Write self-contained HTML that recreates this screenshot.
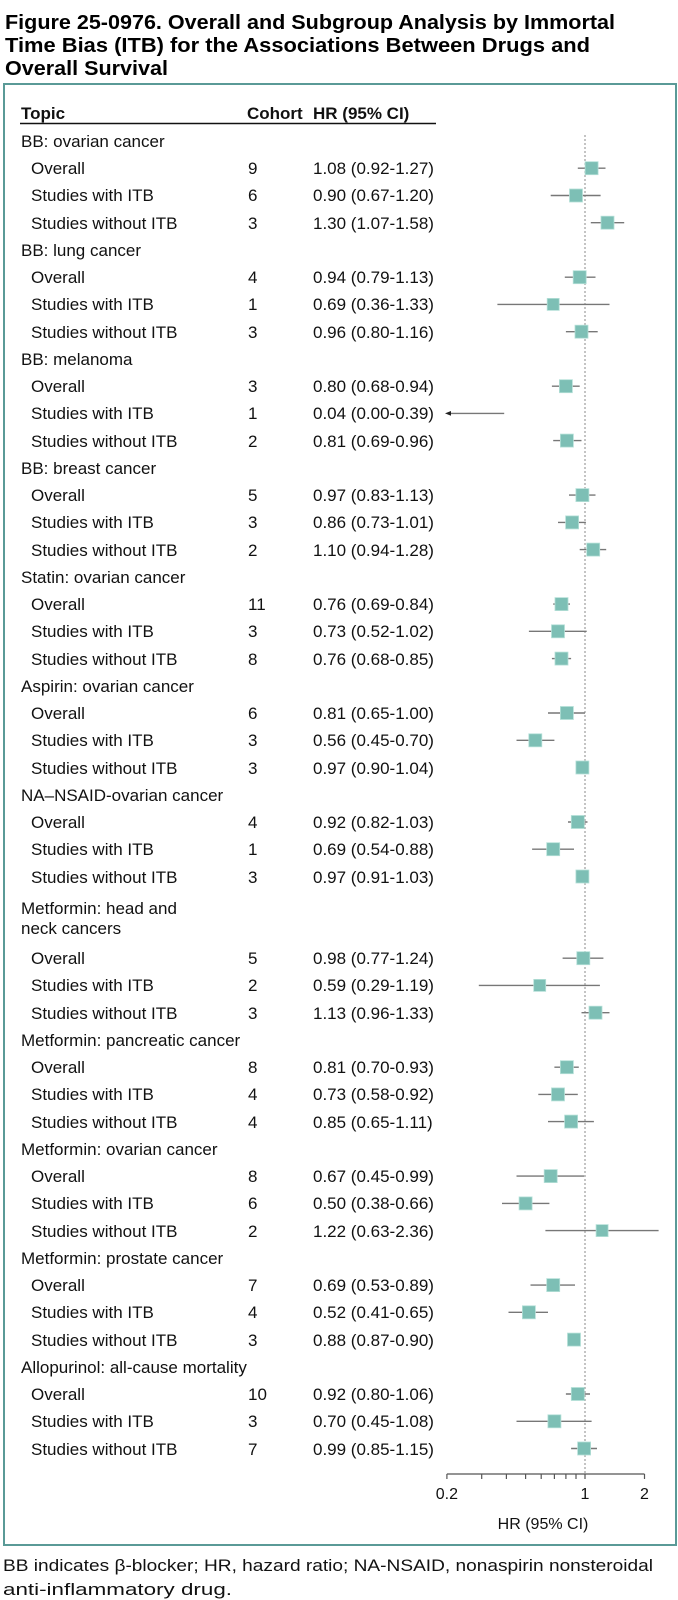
<!DOCTYPE html>
<html><head><meta charset="utf-8"><style>
html,body{margin:0;padding:0;background:#fff;}
svg{display:block;font-family:"Liberation Sans",sans-serif;}
.t{font-size:17px;fill:#111;}
.b{font-weight:bold;}
.ci{stroke:#777;stroke-width:1.4;}
.sq{fill:#7dbfb5;stroke:#b5e0d8;stroke-width:0.8;}
</style></head><body>
<svg width="678" height="1600" viewBox="0 0 678 1600" xmlns="http://www.w3.org/2000/svg">
<text x="5" y="29" class="b" font-size="20" textLength="610" lengthAdjust="spacingAndGlyphs">Figure 25-0976. Overall and Subgroup Analysis by Immortal</text>
<text x="5" y="52" class="b" font-size="20" textLength="585" lengthAdjust="spacingAndGlyphs">Time Bias (ITB) for the Associations Between Drugs and</text>
<text x="5" y="75" class="b" font-size="20" textLength="163" lengthAdjust="spacingAndGlyphs">Overall Survival</text>
<rect x="4" y="84" width="672" height="1461" fill="none" stroke="#5a9a97" stroke-width="2"/>
<text x="21" y="119" class="t b">Topic</text>
<text x="247" y="119" class="t b">Cohort</text>
<text x="313" y="119" class="t b">HR (95% CI)</text>
<line x1="20" y1="123.5" x2="436" y2="123.5" stroke="#111" stroke-width="1.5"/>
<line x1="585" y1="135" x2="585" y2="1474" stroke="#888" stroke-width="1" stroke-dasharray="2,2"/>
<g class="t">
<text x="21" y="147">BB: ovarian cancer</text>
<text x="31" y="174">Overall</text><text x="248" y="174">9</text><text x="313" y="174">1.08 (0.92-1.27)</text>
<text x="31" y="201">Studies with ITB</text><text x="248" y="201">6</text><text x="313" y="201">0.90 (0.67-1.20)</text>
<text x="31" y="229">Studies without ITB</text><text x="248" y="229">3</text><text x="313" y="229">1.30 (1.07-1.58)</text>
<text x="21" y="256">BB: lung cancer</text>
<text x="31" y="283">Overall</text><text x="248" y="283">4</text><text x="313" y="283">0.94 (0.79-1.13)</text>
<text x="31" y="310">Studies with ITB</text><text x="248" y="310">1</text><text x="313" y="310">0.69 (0.36-1.33)</text>
<text x="31" y="338">Studies without ITB</text><text x="248" y="338">3</text><text x="313" y="338">0.96 (0.80-1.16)</text>
<text x="21" y="365">BB: melanoma</text>
<text x="31" y="392">Overall</text><text x="248" y="392">3</text><text x="313" y="392">0.80 (0.68-0.94)</text>
<text x="31" y="419">Studies with ITB</text><text x="248" y="419">1</text><text x="313" y="419">0.04 (0.00-0.39)</text>
<text x="31" y="447">Studies without ITB</text><text x="248" y="447">2</text><text x="313" y="447">0.81 (0.69-0.96)</text>
<text x="21" y="474">BB: breast cancer</text>
<text x="31" y="501">Overall</text><text x="248" y="501">5</text><text x="313" y="501">0.97 (0.83-1.13)</text>
<text x="31" y="528">Studies with ITB</text><text x="248" y="528">3</text><text x="313" y="528">0.86 (0.73-1.01)</text>
<text x="31" y="556">Studies without ITB</text><text x="248" y="556">2</text><text x="313" y="556">1.10 (0.94-1.28)</text>
<text x="21" y="583">Statin: ovarian cancer</text>
<text x="31" y="610">Overall</text><text x="248" y="610">11</text><text x="313" y="610">0.76 (0.69-0.84)</text>
<text x="31" y="637">Studies with ITB</text><text x="248" y="637">3</text><text x="313" y="637">0.73 (0.52-1.02)</text>
<text x="31" y="665">Studies without ITB</text><text x="248" y="665">8</text><text x="313" y="665">0.76 (0.68-0.85)</text>
<text x="21" y="692">Aspirin: ovarian cancer</text>
<text x="31" y="719">Overall</text><text x="248" y="719">6</text><text x="313" y="719">0.81 (0.65-1.00)</text>
<text x="31" y="746">Studies with ITB</text><text x="248" y="746">3</text><text x="313" y="746">0.56 (0.45-0.70)</text>
<text x="31" y="774">Studies without ITB</text><text x="248" y="774">3</text><text x="313" y="774">0.97 (0.90-1.04)</text>
<text x="21" y="801">NA–NSAID-ovarian cancer</text>
<text x="31" y="828">Overall</text><text x="248" y="828">4</text><text x="313" y="828">0.92 (0.82-1.03)</text>
<text x="31" y="855">Studies with ITB</text><text x="248" y="855">1</text><text x="313" y="855">0.69 (0.54-0.88)</text>
<text x="31" y="883">Studies without ITB</text><text x="248" y="883">3</text><text x="313" y="883">0.97 (0.91-1.03)</text>
<text x="21" y="914">Metformin: head and</text>
<text x="21" y="934">neck cancers</text>
<text x="31" y="964">Overall</text><text x="248" y="964">5</text><text x="313" y="964">0.98 (0.77-1.24)</text>
<text x="31" y="991">Studies with ITB</text><text x="248" y="991">2</text><text x="313" y="991">0.59 (0.29-1.19)</text>
<text x="31" y="1019">Studies without ITB</text><text x="248" y="1019">3</text><text x="313" y="1019">1.13 (0.96-1.33)</text>
<text x="21" y="1046">Metformin: pancreatic cancer</text>
<text x="31" y="1073">Overall</text><text x="248" y="1073">8</text><text x="313" y="1073">0.81 (0.70-0.93)</text>
<text x="31" y="1100">Studies with ITB</text><text x="248" y="1100">4</text><text x="313" y="1100">0.73 (0.58-0.92)</text>
<text x="31" y="1128">Studies without ITB</text><text x="248" y="1128">4</text><text x="313" y="1128">0.85 (0.65-1.11)</text>
<text x="21" y="1155">Metformin: ovarian cancer</text>
<text x="31" y="1182">Overall</text><text x="248" y="1182">8</text><text x="313" y="1182">0.67 (0.45-0.99)</text>
<text x="31" y="1209">Studies with ITB</text><text x="248" y="1209">6</text><text x="313" y="1209">0.50 (0.38-0.66)</text>
<text x="31" y="1237">Studies without ITB</text><text x="248" y="1237">2</text><text x="313" y="1237">1.22 (0.63-2.36)</text>
<text x="21" y="1264">Metformin: prostate cancer</text>
<text x="31" y="1291">Overall</text><text x="248" y="1291">7</text><text x="313" y="1291">0.69 (0.53-0.89)</text>
<text x="31" y="1318">Studies with ITB</text><text x="248" y="1318">4</text><text x="313" y="1318">0.52 (0.41-0.65)</text>
<text x="31" y="1346">Studies without ITB</text><text x="248" y="1346">3</text><text x="313" y="1346">0.88 (0.87-0.90)</text>
<text x="21" y="1373">Allopurinol: all-cause mortality</text>
<text x="31" y="1400">Overall</text><text x="248" y="1400">10</text><text x="313" y="1400">0.92 (0.80-1.06)</text>
<text x="31" y="1427">Studies with ITB</text><text x="248" y="1427">3</text><text x="313" y="1427">0.70 (0.45-1.08)</text>
<text x="31" y="1455">Studies without ITB</text><text x="248" y="1455">7</text><text x="313" y="1455">0.99 (0.85-1.15)</text>
</g>
<g>
<line class="ci" x1="577.8" y1="168.2" x2="605.5" y2="168.2"/><rect class="sq" x="585.1" y="161.7" width="13" height="13"/>
<line class="ci" x1="550.7" y1="195.5" x2="600.6" y2="195.5"/><rect class="sq" x="569.5" y="189" width="13" height="13"/>
<line class="ci" x1="590.8" y1="222.7" x2="624.2" y2="222.7"/><rect class="sq" x="601" y="216.2" width="13" height="13"/>
<line class="ci" x1="564.8" y1="277.2" x2="595.5" y2="277.2"/><rect class="sq" x="573.2" y="270.7" width="13" height="13"/>
<line class="ci" x1="497.4" y1="304.4" x2="609.5" y2="304.4"/><rect class="sq" x="547.2" y="298.4" width="12" height="12"/>
<line class="ci" x1="565.9" y1="331.7" x2="597.7" y2="331.7"/><rect class="sq" x="575" y="325.2" width="13" height="13"/>
<line class="ci" x1="551.9" y1="386.2" x2="579.7" y2="386.2"/><rect class="sq" x="559.4" y="379.7" width="13" height="13"/>
<line class="ci" x1="449" y1="413.4" x2="504.2" y2="413.4"/><polygon points="445,413.4 451,411 451,415.8" fill="#222"/>
<line class="ci" x1="553.2" y1="440.6" x2="581.5" y2="440.6"/><rect class="sq" x="560.4" y="434.1" width="13" height="13"/>
<line class="ci" x1="569" y1="495.1" x2="595.5" y2="495.1"/><rect class="sq" x="575.9" y="488.6" width="13" height="13"/>
<line class="ci" x1="558" y1="522.4" x2="585.9" y2="522.4"/><rect class="sq" x="565.6" y="515.9" width="13" height="13"/>
<line class="ci" x1="579.7" y1="549.6" x2="606.2" y2="549.6"/><rect class="sq" x="586.7" y="543.1" width="13" height="13"/>
<line class="ci" x1="553.2" y1="604.1" x2="570" y2="604.1"/><rect class="sq" x="555" y="597.6" width="13" height="13"/>
<line class="ci" x1="528.9" y1="631.3" x2="586.7" y2="631.3"/><rect class="sq" x="551.5" y="624.8" width="13" height="13"/>
<line class="ci" x1="551.9" y1="658.6" x2="571.1" y2="658.6"/><rect class="sq" x="555" y="652.1" width="13" height="13"/>
<line class="ci" x1="548" y1="713" x2="585" y2="713"/><rect class="sq" x="560.4" y="706.5" width="13" height="13"/>
<line class="ci" x1="516.5" y1="740.3" x2="554.4" y2="740.3"/><rect class="sq" x="528.8" y="733.8" width="13" height="13"/>
<line class="ci" x1="576" y1="767.5" x2="588.4" y2="767.5"/><rect class="sq" x="575.9" y="761" width="13" height="13"/>
<line class="ci" x1="568" y1="822" x2="587.5" y2="822"/><rect class="sq" x="571.3" y="815.5" width="13" height="13"/>
<line class="ci" x1="532.1" y1="849.2" x2="574" y2="849.2"/><rect class="sq" x="546.7" y="842.7" width="13" height="13"/>
<line class="ci" x1="576.9" y1="876.5" x2="587.5" y2="876.5"/><rect class="sq" x="575.9" y="870" width="13" height="13"/>
<line class="ci" x1="562.6" y1="958.2" x2="603.4" y2="958.2"/><rect class="sq" x="576.8" y="951.7" width="13" height="13"/>
<line class="ci" x1="478.8" y1="985.4" x2="599.9" y2="985.4"/><rect class="sq" x="533.7" y="979.4" width="12" height="12"/>
<line class="ci" x1="581.5" y1="1012.7" x2="609.5" y2="1012.7"/><rect class="sq" x="589" y="1006.2" width="13" height="13"/>
<line class="ci" x1="554.4" y1="1067.2" x2="578.8" y2="1067.2"/><rect class="sq" x="560.4" y="1060.7" width="13" height="13"/>
<line class="ci" x1="538.3" y1="1094.4" x2="577.8" y2="1094.4"/><rect class="sq" x="551.5" y="1087.9" width="13" height="13"/>
<line class="ci" x1="548" y1="1121.6" x2="593.9" y2="1121.6"/><rect class="sq" x="564.6" y="1115.1" width="13" height="13"/>
<line class="ci" x1="516.5" y1="1176.1" x2="584.1" y2="1176.1"/><rect class="sq" x="544.2" y="1169.6" width="13" height="13"/>
<line class="ci" x1="502" y1="1203.4" x2="549.4" y2="1203.4"/><rect class="sq" x="519.1" y="1196.9" width="13" height="13"/>
<line class="ci" x1="545.4" y1="1230.6" x2="658.6" y2="1230.6"/><rect class="sq" x="596.1" y="1224.6" width="12" height="12"/>
<line class="ci" x1="530.5" y1="1285.1" x2="575" y2="1285.1"/><rect class="sq" x="546.7" y="1278.6" width="13" height="13"/>
<line class="ci" x1="508.5" y1="1312.3" x2="548" y2="1312.3"/><rect class="sq" x="522.4" y="1305.8" width="13" height="13"/>
<line class="ci" x1="573.1" y1="1339.6" x2="576" y2="1339.6"/><rect class="sq" x="567.5" y="1333.1" width="13" height="13"/>
<line class="ci" x1="565.9" y1="1394" x2="590" y2="1394"/><rect class="sq" x="571.3" y="1387.5" width="13" height="13"/>
<line class="ci" x1="516.5" y1="1421.3" x2="591.6" y2="1421.3"/><rect class="sq" x="547.9" y="1414.8" width="13" height="13"/>
<line class="ci" x1="571.1" y1="1448.5" x2="597" y2="1448.5"/><rect class="sq" x="577.6" y="1442" width="13" height="13"/>
</g>
<g stroke="#555" stroke-width="1.2">
<line x1="446.9" y1="1474" x2="644.5" y2="1474"/>
<line x1="446.9" y1="1474" x2="446.9" y2="1479"/>
<line x1="481.7" y1="1474" x2="481.7" y2="1479"/>
<line x1="506.4" y1="1474" x2="506.4" y2="1479"/>
<line x1="525.6" y1="1474" x2="525.6" y2="1479"/>
<line x1="541.2" y1="1474" x2="541.2" y2="1479"/>
<line x1="554.4" y1="1474" x2="554.4" y2="1479"/>
<line x1="565.9" y1="1474" x2="565.9" y2="1479"/>
<line x1="576" y1="1474" x2="576" y2="1479"/>
<line x1="585" y1="1474" x2="585" y2="1479"/>
<line x1="644.5" y1="1474" x2="644.5" y2="1479"/>
</g>
<g class="t" font-size="16" text-anchor="middle">
<text x="446.9" y="1499" style="font-size:16px">0.2</text>
<text x="585" y="1499" style="font-size:16px">1</text>
<text x="644.5" y="1499" style="font-size:16px">2</text>
<text x="543" y="1529" style="font-size:16px">HR (95% CI)</text>
</g>
<text x="3" y="1571" class="t" style="font-size:16.5px" textLength="650" lengthAdjust="spacingAndGlyphs">BB indicates β-blocker; HR, hazard ratio; NA-NSAID, nonaspirin nonsteroidal</text>
<text x="3" y="1595" class="t" style="font-size:16.5px" textLength="229" lengthAdjust="spacingAndGlyphs">anti-inflammatory drug.</text>
</svg>
</body></html>
